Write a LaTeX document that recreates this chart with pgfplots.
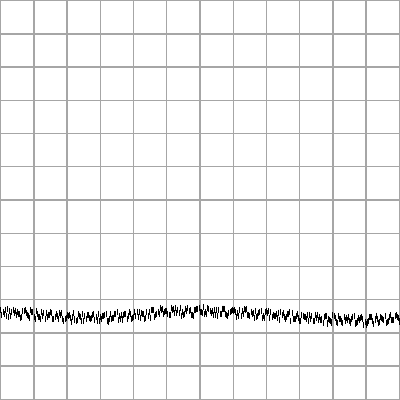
\documentclass[border=0pt]{standalone}
\usepackage{pgfplots}
\pgfplotsset{compat=1.18}
\begin{document}
\begin{tikzpicture}
\begin{axis}[
  scale only axis, width=10cm, height=10cm,
  xmin=0, xmax=12, ymin=0, ymax=12,
  xtick={0,...,12}, ytick={0,...,12},
  xticklabels={}, yticklabels={}, major tick length=0pt,
  tick label style={overlay},
  grid=major, major grid style={color=black!35, line width=1pt},
  axis line style={color=black!35, line width=1pt},
]
\addplot[only marks, mark=|, mark size=2.2pt, black, mark options={line width=0.55pt}] coordinates {
(0.0,2.68)(0.1,2.56)(0.2,2.71)(0.3,2.50)(0.4,2.60)(0.5,2.63)(0.6,2.45)(0.7,2.66)(0.8,2.54)(0.9,2.69)
(1.0,2.48)(1.1,2.57)(1.2,2.43)(1.3,2.59)(1.4,2.47)(1.5,2.62)(1.6,2.41)(1.7,2.50)(1.8,2.53)(1.9,2.35)
(2.0,2.55)(2.1,2.44)(2.2,2.59)(2.3,2.39)(2.4,2.49)(2.5,2.36)(2.6,2.53)(2.7,2.42)(2.8,2.57)(2.9,2.37)
(3.0,2.47)(3.1,2.52)(3.2,2.35)(3.3,2.57)(3.4,2.46)(3.5,2.62)(3.6,2.43)(3.7,2.53)(3.8,2.41)(3.9,2.58)
(4.0,2.48)(4.1,2.64)(4.2,2.45)(4.3,2.57)(4.4,2.62)(4.5,2.46)(4.6,2.68)(4.7,2.58)(4.8,2.75)(4.9,2.56)
(5.0,2.67)(5.1,2.54)(5.2,2.71)(5.3,2.60)(5.4,2.75)(5.5,2.55)(5.6,2.65)(5.7,2.69)(5.8,2.52)(5.9,2.73)
(6.0,2.62)(6.1,2.77)(6.2,2.56)(6.3,2.66)(6.4,2.53)(6.5,2.70)(6.6,2.58)(6.7,2.73)(6.8,2.53)(6.9,2.62)
(7.0,2.66)(7.1,2.48)(7.2,2.69)(7.3,2.57)(7.4,2.72)(7.5,2.51)(7.6,2.60)(7.7,2.47)(7.8,2.63)(7.9,2.52)
(8.0,2.66)(8.1,2.45)(8.2,2.54)(8.3,2.57)(8.4,2.39)(8.5,2.60)(8.6,2.48)(8.7,2.62)(8.8,2.41)(8.9,2.50)
(9.0,2.36)(9.1,2.52)(9.2,2.41)(9.3,2.55)(9.4,2.35)(9.5,2.44)(9.6,2.47)(9.7,2.30)(9.8,2.50)(9.9,2.39)
(10.0,2.53)(10.1,2.33)(10.2,2.42)(10.3,2.29)(10.4,2.46)(10.5,2.35)(10.6,2.49)(10.7,2.29)(10.8,2.39)(10.9,2.42)
(11.0,2.25)(11.1,2.47)(11.2,2.36)(11.3,2.52)(11.4,2.32)(11.5,2.43)(11.6,2.30)(11.7,2.48)(11.8,2.38)(11.9,2.53)
(12.0,2.34)
};
\addplot[only marks, mark=|, mark size=2.2pt, black, mark options={line width=0.55pt}] coordinates {
(0.033,2.55)(0.133,2.70)(0.233,2.49)(0.333,2.63)(0.433,2.67)(0.533,2.57)(0.633,2.49)(0.733,2.69)(0.833,2.52)(0.933,2.62)
(1.033,2.42)(1.133,2.48)(1.233,2.63)(1.333,2.41)(1.433,2.55)(1.533,2.59)(1.633,2.49)(1.733,2.41)(1.833,2.60)(1.933,2.43)
(2.033,2.52)(2.133,2.33)(2.233,2.40)(2.333,2.56)(2.433,2.35)(2.533,2.50)(2.633,2.54)(2.733,2.45)(2.833,2.38)(2.933,2.58)
(3.033,2.42)(3.133,2.53)(3.233,2.34)(3.333,2.42)(3.433,2.58)(3.533,2.38)(3.633,2.54)(3.733,2.58)(3.833,2.50)(3.933,2.43)
(4.033,2.64)(4.133,2.49)(4.233,2.60)(4.333,2.43)(4.433,2.51)(4.533,2.68)(4.633,2.48)(4.733,2.64)(4.833,2.70)(4.933,2.62)
(5.033,2.56)(5.133,2.76)(5.233,2.60)(5.333,2.70)(5.433,2.51)(5.533,2.58)(5.633,2.74)(5.733,2.53)(5.833,2.68)(5.933,2.72)
(6.033,2.63)(6.133,2.56)(6.233,2.75)(6.333,2.59)(6.433,2.69)(6.533,2.50)(6.633,2.56)(6.733,2.72)(6.833,2.51)(6.933,2.65)
(7.033,2.69)(7.133,2.59)(7.233,2.52)(7.333,2.71)(7.433,2.55)(7.533,2.64)(7.633,2.44)(7.733,2.51)(7.833,2.66)(7.933,2.45)
(8.033,2.59)(8.133,2.62)(8.233,2.52)(8.333,2.44)(8.433,2.63)(8.533,2.47)(8.633,2.56)(8.733,2.36)(8.833,2.42)(8.933,2.57)
(9.033,2.35)(9.133,2.49)(9.233,2.53)(9.333,2.43)(9.433,2.36)(9.533,2.55)(9.633,2.38)(9.733,2.48)(9.833,2.28)(9.933,2.35)
(10.033,2.50)(10.133,2.29)(10.233,2.43)(10.333,2.47)(10.433,2.38)(10.533,2.31)(10.633,2.50)(10.733,2.34)(10.833,2.44)(10.933,2.24)
(11.033,2.31)(11.133,2.48)(11.233,2.27)(11.333,2.43)(11.433,2.47)(11.533,2.39)(11.633,2.33)(11.733,2.53)(11.833,2.38)(11.933,2.48)
};
\addplot[only marks, mark=|, mark size=2.2pt, black, mark options={line width=0.55pt}] coordinates {
(0.067,2.63)(0.167,2.50)(0.267,2.66)(0.367,2.70)(0.467,2.54)(0.567,2.56)(0.667,2.66)(0.767,2.59)(0.867,2.46)(0.967,2.62)
(1.067,2.66)(1.167,2.49)(1.267,2.51)(1.367,2.61)(1.467,2.53)(1.567,2.41)(1.667,2.56)(1.767,2.60)(1.867,2.43)(1.967,2.45)
(2.067,2.55)(2.167,2.48)(2.267,2.36)(2.367,2.52)(2.467,2.57)(2.567,2.41)(2.667,2.44)(2.767,2.55)(2.867,2.48)(2.967,2.36)
(3.067,2.52)(3.167,2.58)(3.267,2.42)(3.367,2.46)(3.467,2.57)(3.567,2.51)(3.667,2.40)(3.767,2.56)(3.867,2.62)(3.967,2.46)
(4.067,2.50)(4.167,2.62)(4.267,2.56)(4.367,2.46)(4.467,2.63)(4.567,2.69)(4.667,2.54)(4.767,2.58)(4.867,2.71)(4.967,2.65)
(5.067,2.54)(5.167,2.70)(5.267,2.75)(5.367,2.59)(5.467,2.62)(5.567,2.73)(5.667,2.66)(5.767,2.54)(5.867,2.70)(5.967,2.75)
(6.067,2.59)(6.167,2.62)(6.267,2.72)(6.367,2.65)(6.467,2.53)(6.567,2.69)(6.667,2.73)(6.767,2.57)(6.867,2.60)(6.967,2.70)
(7.067,2.63)(7.167,2.50)(7.267,2.66)(7.367,2.70)(7.467,2.54)(7.567,2.56)(7.667,2.66)(7.767,2.59)(7.867,2.46)(7.967,2.62)
(8.067,2.66)(8.167,2.49)(8.267,2.51)(8.367,2.61)(8.467,2.53)(8.567,2.41)(8.667,2.56)(8.767,2.60)(8.867,2.43)(8.967,2.45)
(9.067,2.55)(9.167,2.47)(9.267,2.35)(9.367,2.50)(9.467,2.55)(9.567,2.38)(9.667,2.40)(9.767,2.51)(9.867,2.43)(9.967,2.31)
(10.067,2.46)(10.167,2.51)(10.267,2.34)(10.367,2.37)(10.467,2.48)(10.567,2.41)(10.667,2.28)(10.767,2.44)(10.867,2.49)(10.967,2.32)
(11.067,2.35)(11.167,2.47)(11.267,2.40)(11.367,2.29)(11.467,2.45)(11.567,2.51)(11.667,2.35)(11.767,2.39)(11.867,2.50)(11.967,2.44)
};
\end{axis}
\end{tikzpicture}
\end{document}
